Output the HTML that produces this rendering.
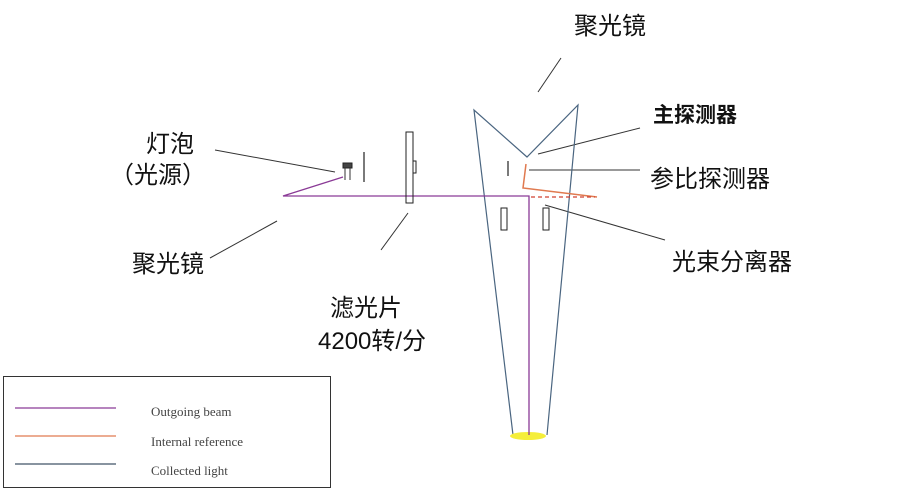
<!DOCTYPE html>
<html><head><meta charset="utf-8"><style>
body{margin:0;background:#fff;}
svg{display:block}
text{font-family:"Liberation Sans","Noto Sans CJK SC",sans-serif;font-size:24px;fill:#111}
.l{font-family:"Liberation Serif",serif;font-size:13px;fill:#444}
</style></head><body>
<svg width="901" height="490" viewBox="0 0 901 490" xmlns="http://www.w3.org/2000/svg">
<g stroke="#333" stroke-width="1" fill="none">
<line x1="215" y1="150" x2="335" y2="172"/>
<line x1="210" y1="258" x2="277" y2="221"/>
<line x1="381" y1="250" x2="408" y2="213"/>
<line x1="538" y1="92" x2="561" y2="58"/>
<line x1="538" y1="154" x2="640" y2="128"/>
<line x1="529" y1="170" x2="640" y2="170"/>
<line x1="545" y1="205" x2="665" y2="240"/>
</g>
<g stroke="#4a6580" stroke-width="1.2" fill="none">
<polyline points="513,435 474,110 527,157 578,105 547,435"/>
</g>
<ellipse cx="528" cy="436" rx="18" ry="4" fill="#f5ee3a"/>
<g stroke="#8a3a96" stroke-width="1.3" fill="none">
<polyline points="343,177 283,196 529,196 529,435"/>
</g>
<polyline points="526,164 523,188 597,197" stroke="#e07a50" stroke-width="1.5" fill="none"/>
<line x1="531" y1="197" x2="595" y2="197" stroke="#d04030" stroke-width="1.3" stroke-dasharray="4,3"/>
<rect x="343" y="163" width="9" height="5" fill="#444" stroke="#222"/>
<line x1="345" y1="168" x2="345" y2="180" stroke="#333"/>
<line x1="350" y1="168" x2="350" y2="180" stroke="#333"/>
<line x1="364" y1="152" x2="364" y2="182" stroke="#222" stroke-width="1.2"/>
<rect x="406" y="132" width="7" height="71" fill="none" stroke="#222"/>
<rect x="413" y="161" width="3" height="12" fill="none" stroke="#222"/>
<line x1="508" y1="161" x2="508" y2="176" stroke="#222" stroke-width="1.2"/>
<rect x="501" y="208" width="6" height="22" fill="none" stroke="#222"/>
<rect x="543" y="208" width="6" height="22" fill="none" stroke="#222"/>
<text x="146" y="152">灯泡</text>
<text x="110" y="183">（光源）</text>
<text x="132" y="272">聚光镜</text>
<text x="574" y="34">聚光镜</text>
<text x="653" y="122" style="font-weight:bold;font-size:21px">主探测器</text>
<text x="650" y="187">参比探测器</text>
<text x="672" y="270">光束分离器</text>
<text x="330" y="316">滤光片</text>
<text x="318" y="349">4200转/分</text>
<rect x="3.5" y="376.5" width="327" height="111" fill="none" stroke="#333"/>
<line x1="15" y1="408" x2="116" y2="408" stroke="#8a3a96" stroke-width="1.2"/>
<line x1="15" y1="436" x2="116" y2="436" stroke="#e07a50" stroke-width="1.2"/>
<line x1="15" y1="464" x2="116" y2="464" stroke="#607080" stroke-width="1.5"/>
<text class="l" x="151" y="416">Outgoing beam</text>
<text class="l" x="151" y="446">Internal reference</text>
<text class="l" x="151" y="475">Collected light</text>
</svg>
</body></html>
